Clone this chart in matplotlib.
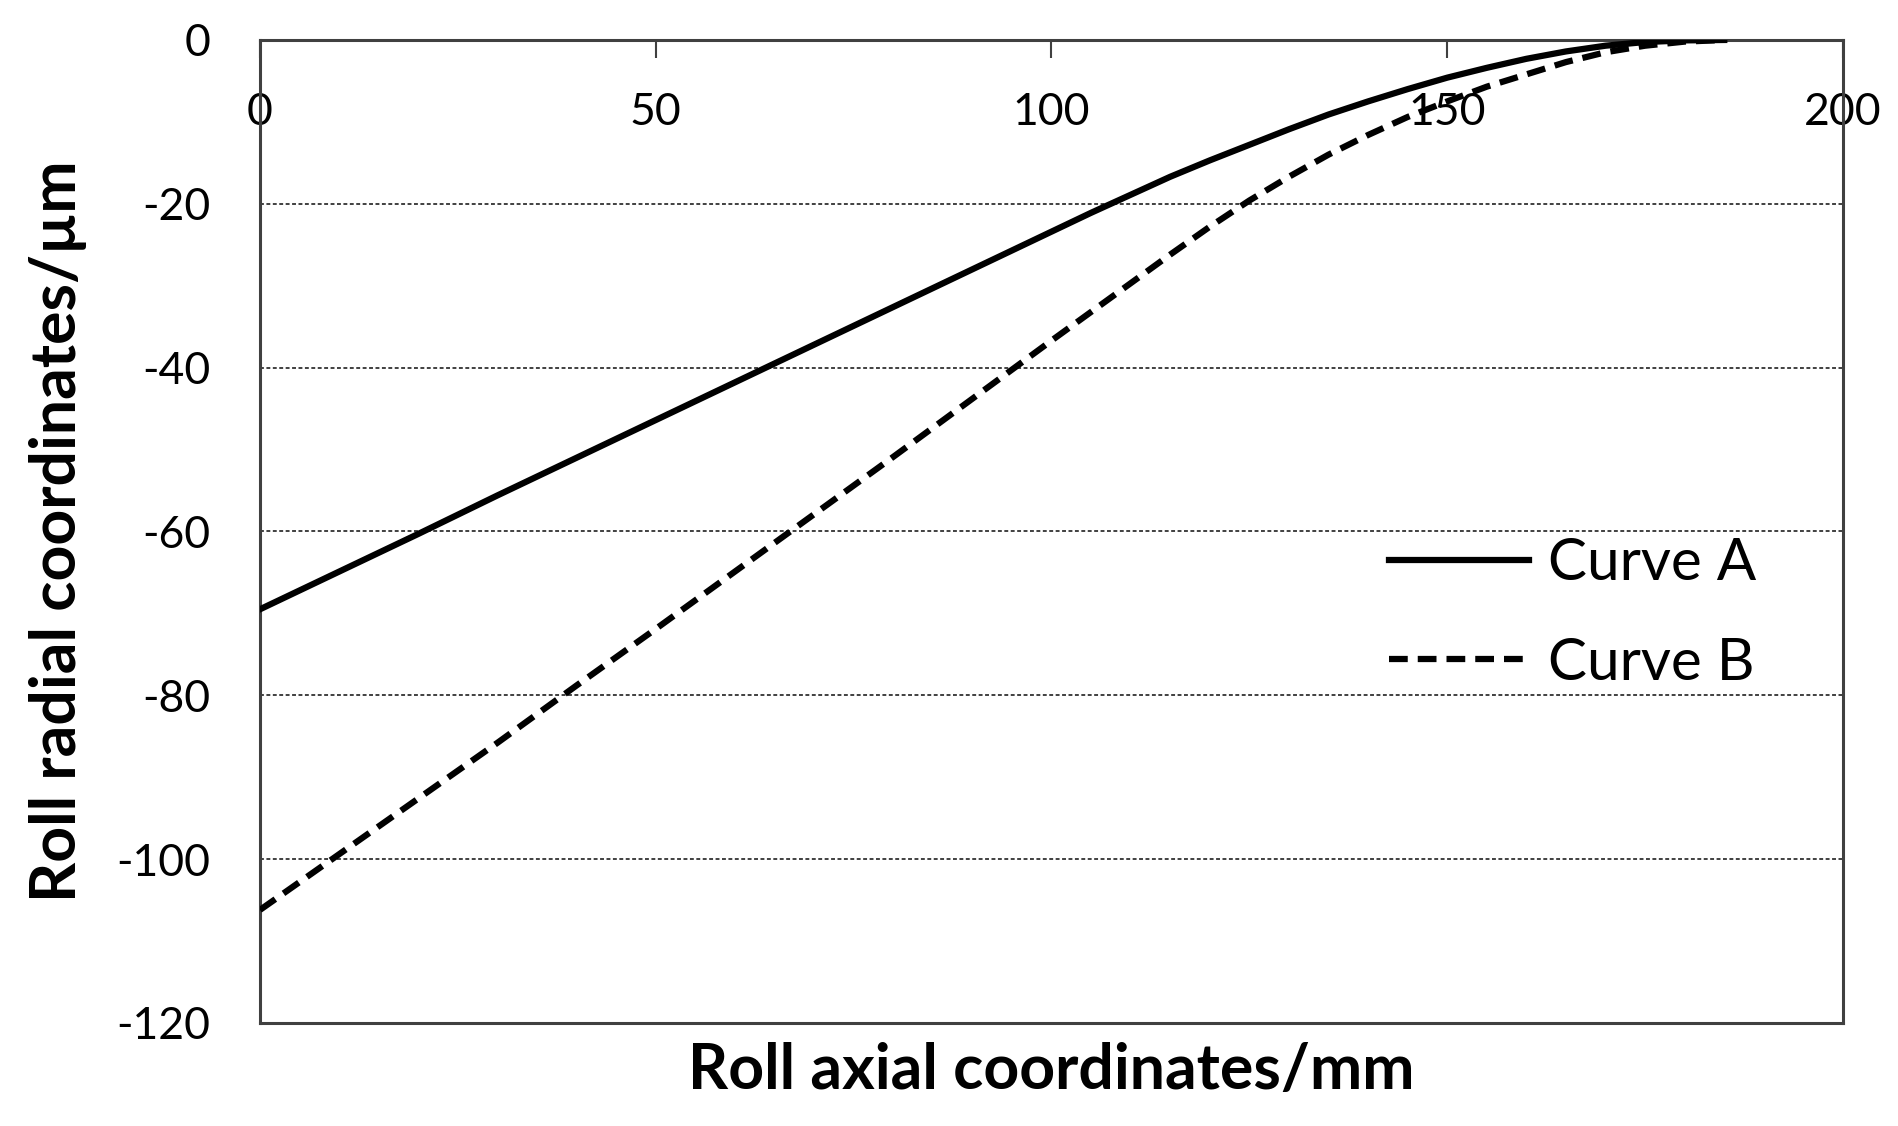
import matplotlib
matplotlib.use('Agg')
import matplotlib.pyplot as plt

# datos
x_a = [0, 10, 20, 30, 40, 50, 60, 70, 80, 90, 100, 105, 110, 115, 120, 125, 130, 135,
       140, 145, 150, 155, 160, 165, 170, 175, 180, 185]
curva_a = [-69.5, -64.9, -60.3, -55.6, -51.0, -46.4, -41.8, -37.2, -32.6, -28.0, -23.4,
           -21.1, -18.9, -16.7, -14.7, -12.8, -10.9, -9.1, -7.5, -6.0, -4.6, -3.4,
           -2.3, -1.4, -0.7, -0.25, -0.05, 0.0]

x_b = [0, 10, 20, 30, 40, 50, 60, 70, 80, 90, 100, 110, 115, 120, 125, 130, 135, 140,
       145, 150, 155, 160, 165, 170, 175, 180, 185]
curva_b = [-106.2, -99.4, -92.6, -85.8, -78.8, -71.9, -64.9, -57.9, -50.9, -43.8, -36.7,
           -29.7, -26.2, -22.8, -19.6, -16.7, -14.0, -11.6, -9.4, -7.5, -5.7, -4.2,
           -2.7, -1.5, -0.7, -0.2, 0.0]

xticks = [0, 50, 100, 150, 200]
yticks = [0, -20, -40, -60, -80, -100, -120]

plt.rcParams['font.family'] = ['Lato', 'DejaVu Sans']

fig = plt.figure(figsize=(18.99, 11.26), dpi=100)
ax = fig.add_axes([0.1369, 0.0915, 0.8336, 0.873])

for y in yticks[1:-1]:
    ax.axhline(y, color='#404040', linewidth=1.4, linestyle=(0, (2, 1.3)), zorder=1)

ax.plot(x_a, curva_a, color='black', linewidth=4.5, label='Curve A', zorder=3)
ax.plot(x_b, curva_b, color='black', linewidth=4.5, linestyle=(0, (3.0, 1.6)),
        label='Curve B', zorder=3)

ax.set_xlim(0, 200)
ax.set_ylim(-120, 0)
ax.set_xticks(xticks)
ax.set_yticks(yticks)
ax.set_yticklabels([str(v) for v in yticks])

for s in ax.spines.values():
    s.set_color('#404040')
    s.set_linewidth(2.2)

ax.tick_params(axis='x', top=True, bottom=False, labeltop=True, labelbottom=False,
               direction='in', length=13, width=1.5, color='#404040',
               pad=-67, labelsize=32)
ax.tick_params(axis='y', left=False, pad=32, labelsize=32)

ax.set_xlabel('Roll axial coordinates/mm', fontsize=45, fontweight='bold', labelpad=14)
ax.set_ylabel('Roll radial coordinates/µm', fontsize=45, fontweight='bold')
ax.yaxis.set_label_coords(-0.109, 0.5)

ax.legend(loc='center left', bbox_to_anchor=(0.68, 0.4165), frameon=False, fontsize=42,
          handlelength=2.4, handletextpad=0.33, labelspacing=0.8)

fig.savefig('out.png', dpi=100)
